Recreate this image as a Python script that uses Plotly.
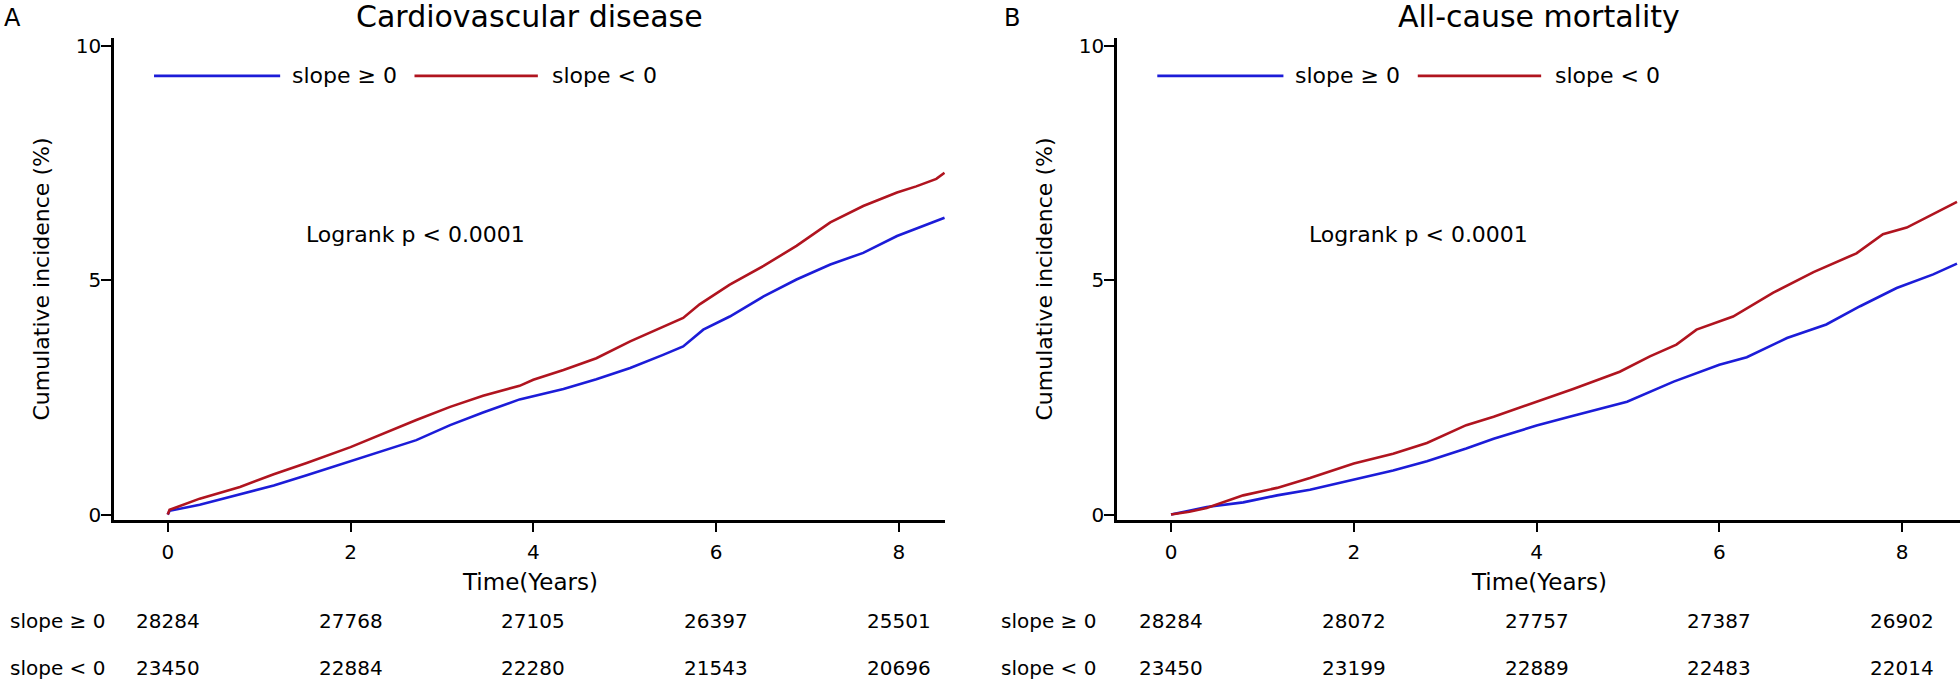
import plotly.graph_objects as go

# ---------------- data ----------------
# Panel A: Cardiovascular disease (years, cumulative incidence %)
cvd_pos_t = [0, 0.02, 0.35, 0.79, 1.16, 1.52, 2.0, 2.36, 2.72, 3.09, 3.45, 3.85, 4.0, 4.33, 4.69,
             5.06, 5.42, 5.64, 5.86, 6.15, 6.52, 6.88, 7.25, 7.61, 7.98, 8.5]
cvd_pos_y = [0, 0.08, 0.21, 0.43, 0.62, 0.84, 1.14, 1.37, 1.59, 1.91, 2.18, 2.46, 2.53, 2.68, 2.89,
             3.13, 3.41, 3.59, 3.95, 4.23, 4.66, 5.02, 5.34, 5.59, 5.95, 6.34]
cvd_neg_t = [0, 0.02, 0.35, 0.79, 1.16, 1.52, 2.0, 2.36, 2.72, 3.09, 3.45, 3.85, 4.0, 4.33, 4.69,
             5.06, 5.42, 5.64, 5.82, 6.15, 6.52, 6.88, 7.25, 7.61, 7.98, 8.19, 8.41, 8.5]
cvd_neg_y = [0, 0.10, 0.34, 0.59, 0.86, 1.10, 1.44, 1.73, 2.02, 2.30, 2.54, 2.75, 2.88, 3.09, 3.34,
             3.70, 4.02, 4.20, 4.49, 4.91, 5.31, 5.74, 6.24, 6.59, 6.88, 7.01, 7.17, 7.30]

# Panel B: All-cause mortality
acm_pos_t = [0, 0.2, 0.39, 0.79, 1.16, 1.52, 2.0, 2.43, 2.80, 3.23, 3.53, 4.0, 4.36, 4.99, 5.50,
             6.0, 6.30, 6.74, 7.17, 7.54, 7.94, 8.34, 8.6]
acm_pos_y = [0, 0.09, 0.16, 0.26, 0.41, 0.53, 0.74, 0.94, 1.14, 1.41, 1.62, 1.90, 2.09, 2.41, 2.84,
             3.20, 3.36, 3.77, 4.06, 4.45, 4.84, 5.13, 5.36]
acm_neg_t = [0, 0.2, 0.39, 0.79, 1.16, 1.52, 2.0, 2.43, 2.80, 3.23, 3.53, 4.02, 4.4, 4.91, 5.24,
             5.53, 5.75, 6.15, 6.59, 7.03, 7.50, 7.79, 8.05, 8.6]
acm_neg_y = [0, 0.06, 0.14, 0.41, 0.57, 0.78, 1.09, 1.30, 1.53, 1.91, 2.09, 2.42, 2.68, 3.05, 3.38,
             3.63, 3.95, 4.23, 4.74, 5.18, 5.58, 5.99, 6.13, 6.68]

risk_times = [0, 2, 4, 6, 8]
cvd_risk_pos = [28284, 27768, 27105, 26397, 25501]
cvd_risk_neg = [23450, 22884, 22280, 21543, 20696]
acm_risk_pos = [28284, 28072, 27757, 27387, 26902]
acm_risk_neg = [23450, 23199, 22889, 22483, 22014]

group_labels = ["slope \u2265 0", "slope < 0"]
titles = ["Cardiovascular disease", "All-cause mortality"]
panel_letters = ["A", "B"]
logrank_text = "Logrank p < 0.0001"
x_title = "Time(Years)"
y_title = "Cumulative incidence (%)"

BLUE = "#1c1cd8"
RED = "#b0141f"
FONT = "DejaVu Sans"
W, H = 1960, 684

fig = go.Figure()

panels = [
    (cvd_pos_t, cvd_pos_y, cvd_neg_t, cvd_neg_y, cvd_risk_pos, cvd_risk_neg, "x", "y"),
    (acm_pos_t, acm_pos_y, acm_neg_t, acm_neg_y, acm_risk_pos, acm_risk_neg, "x2", "y2"),
]

for (pt, py, nt, ny, rp, rn, xa, ya) in panels:
    fig.add_trace(go.Scatter(x=pt, y=py, mode="lines", line=dict(color=BLUE, width=2.6),
                             xaxis=xa, yaxis=ya, showlegend=False, hoverinfo="skip"))
    fig.add_trace(go.Scatter(x=nt, y=ny, mode="lines", line=dict(color=RED, width=2.6),
                             xaxis=xa, yaxis=ya, showlegend=False, hoverinfo="skip"))

# axes geometry (pixels)
plot_top, plot_bot = 35, 524
left_dom = (114, 945)
right_dom = (1117, 1960)
ydom = [1 - plot_bot / H, 1 - plot_top / H]
YR = [-0.107, 10.17]

axis_common = dict(showline=True, linecolor="black", linewidth=2.5, ticks="outside",
                   ticklen=10, tickwidth=2, tickcolor="black", showgrid=False, zeroline=False,
                   tickfont=dict(family=FONT, size=20, color="black"))

fig.update_layout(
    width=W, height=H, margin=dict(l=0, r=0, t=0, b=0),
    paper_bgcolor="white", plot_bgcolor="white", showlegend=False,
    xaxis=dict(domain=[left_dom[0] / W, left_dom[1] / W], range=[-0.588, 8.505],
               tickvals=risk_times, anchor="y", ticklabelstandoff=3, **axis_common),
    yaxis=dict(domain=ydom, range=YR, tickvals=[0, 5, 10], anchor="x",
               ticklabelstandoff=-4, **axis_common),
    xaxis2=dict(domain=[right_dom[0] / W, right_dom[1] / W], range=[-0.591, 8.633],
                tickvals=risk_times, anchor="y2", ticklabelstandoff=3, **axis_common),
    yaxis2=dict(domain=ydom, range=YR, tickvals=[0, 5, 10], anchor="x2",
                ticklabelstandoff=-4, **axis_common),
)


def txt(text, x, y, xref="paper", yref="paper", size=20, xanchor="center", **kw):
    return dict(text=text, x=x, y=y, xref=xref, yref=yref, xanchor=xanchor, yanchor="middle",
                showarrow=False, font=dict(family=FONT, size=size, color="black"), **kw)


annotations = []
shapes = []
for i, (xa, ya) in enumerate([("x", "y"), ("x2", "y2")]):
    dom = left_dom if i == 0 else right_dom
    cx = (dom[0] + dom[1]) / 2 / W
    annotations.append(txt(panel_letters[i], (12 if i == 0 else 1012) / W, 1 - 14 / H, size=24))
    annotations.append(txt(titles[i], cx, 1 - 13 / H, size=30))
    annotations.append(txt(y_title, (41 if i == 0 else 1044) / W, 1 - 280 / H, size=22, textangle=-90))
    annotations.append(txt(x_title, cx, 1 - 587 / H, size=23))
    annotations.append(txt(logrank_text, 1.49, 5.98, xref=xa, yref=ya, size=22, xanchor="left"))
    # legend
    leg_y = 9.37
    for (x0, x1, tx, col, lab) in [(-0.15, 1.23, 1.34, BLUE, group_labels[0]),
                                   (2.70, 4.05, 4.18, RED, group_labels[1])]:
        shapes.append(dict(type="line", xref=xa, yref=ya, x0=x0, x1=x1, y0=leg_y, y1=leg_y,
                           line=dict(color=col, width=2.6)))
        annotations.append(txt(lab, tx, leg_y, xref=xa, yref=ya, size=22, xanchor="left"))
    # risk table
    rp = panels[i][4]
    rn = panels[i][5]
    lab_x = (107 if i == 0 else 1098) / W
    for (row_vals, row_lab, ypx) in [(rp, group_labels[0], 627), (rn, group_labels[1], 675)]:
        annotations.append(txt(row_lab, lab_x, 1 - ypx / H, size=20, xanchor="right"))
        for t, v in zip(risk_times, row_vals):
            annotations.append(txt(str(v), t, 1 - ypx / H, xref=xa, size=20))

fig.update_layout(annotations=annotations, shapes=shapes)
fig.write_html("out.html", config={"displayModeBar": False},
               post_script="document.body.style.margin='0';document.body.style.overflow='hidden';")
